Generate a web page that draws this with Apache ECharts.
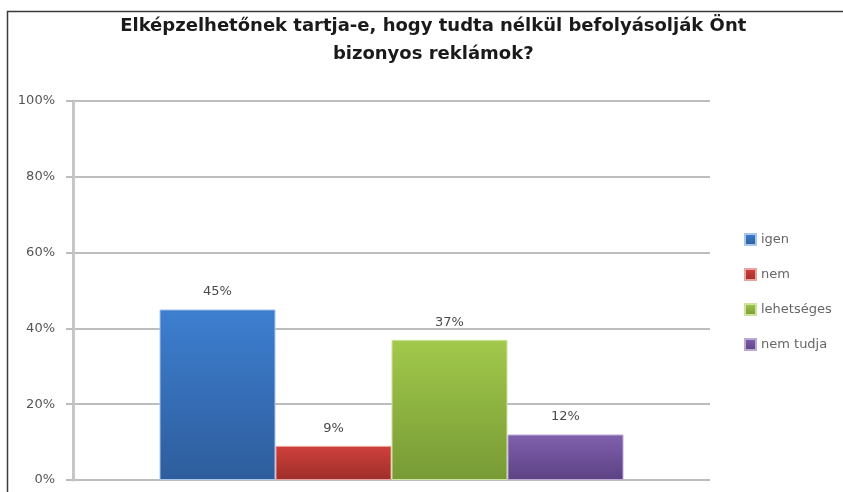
<!DOCTYPE html>
<html>
<head>
<meta charset="utf-8">
<script src="https://cdn.jsdelivr.net/npm/echarts@6/dist/echarts.min.js"></script>
<style>
  html, body { margin: 0; padding: 0; background: #ffffff; }
  #chart { width: 843px; height: 492px; }
</style>
</head>
<body>
<div id="chart"></div>
<script>
// Survey answers, percentage of respondents
const titleText = 'Elképzelhetőnek tartja-e, hogy tudta nélkül befolyásolják Önt\nbizonyos reklámok?';
const answers = ['igen', 'nem', 'lehetséges', 'nem tudja'];
const percents = [45, 9, 37, 12];
const yTicks = [0, 20, 40, 60, 80, 100];

// top / bottom gradient stops per answer
const barTop = ['#3d7fd0', '#d0403b', '#a2c94b', '#8060ad'];
const barBottom = ['#2e5d9c', '#9e2f2b', '#779a35', '#5c4283'];
const barEdge = ['#a9c6ec', '#e9a3a0', '#cfe3a0', '#bba9d6'];

const FONT = 'DejaVu Sans, Verdana, sans-serif';

const chart = echarts.init(document.getElementById('chart'));

const series = answers.map((name, i) => ({
  name: name,
  type: 'bar',
  data: [percents[i]],
  barWidth: 116,
  barGap: '0%',
  itemStyle: {
    color: new echarts.graphic.LinearGradient(0, 0, 0, 1, [
      { offset: 0, color: barTop[i] },
      { offset: 1, color: barBottom[i] }
    ]),
    borderColor: barEdge[i],
    borderWidth: 1
  },
  label: {
    show: true,
    position: 'top',
    distance: 11,
    formatter: '{c}%',
    color: '#4a4a4a',
    fontSize: 13,
    fontFamily: FONT
  }
}));

chart.setOption({
  animation: false,
  backgroundColor: '#ffffff',
  title: {
    text: titleText,
    left: '50.8%',
    textAlign: 'center',
    top: 7,
    textStyle: {
      fontFamily: FONT,
      fontWeight: 'bold',
      fontSize: 18,
      lineHeight: 28,
      color: '#1a1a1a'
    }
  },
  legend: {
    orient: 'vertical',
    left: 739,
    top: 228,
    itemWidth: 11,
    itemHeight: 11,
    itemGap: 22,
    icon: 'rect',
    data: answers,
    textStyle: {
      color: '#666',
      fontSize: 13,
      fontFamily: FONT
    }
  },
  grid: {
    left: 73,
    right: 133,
    top: 101,
    bottom: 12,
    containLabel: false
  },
  xAxis: {
    type: 'category',
    data: [''],
    axisLine: { show: false },
    axisTick: { show: false },
    axisLabel: { show: false }
  },
  yAxis: {
    type: 'value',
    min: yTicks[0],
    max: yTicks[yTicks.length - 1],
    interval: yTicks[1] - yTicks[0],
    axisLine: { show: true, lineStyle: { color: '#c6c6c6', width: 3 } },
    axisTick: { show: true, length: 7, lineStyle: { color: '#bdbdbd', width: 2 } },
    axisLabel: {
      formatter: '{value}%',
      color: '#555',
      fontSize: 13,
      margin: 18,
      fontFamily: FONT
    },
    splitLine: { lineStyle: { color: '#bdbdbd', width: 2 } }
  },
  graphic: [{
    type: 'rect',
    shape: { x: 7.5, y: 11.5, width: 900, height: 600 },
    style: { fill: 'none', stroke: '#3a3a3a', lineWidth: 1.5 },
    silent: true
  }],
  series: series
});
</script>
</body>
</html>
